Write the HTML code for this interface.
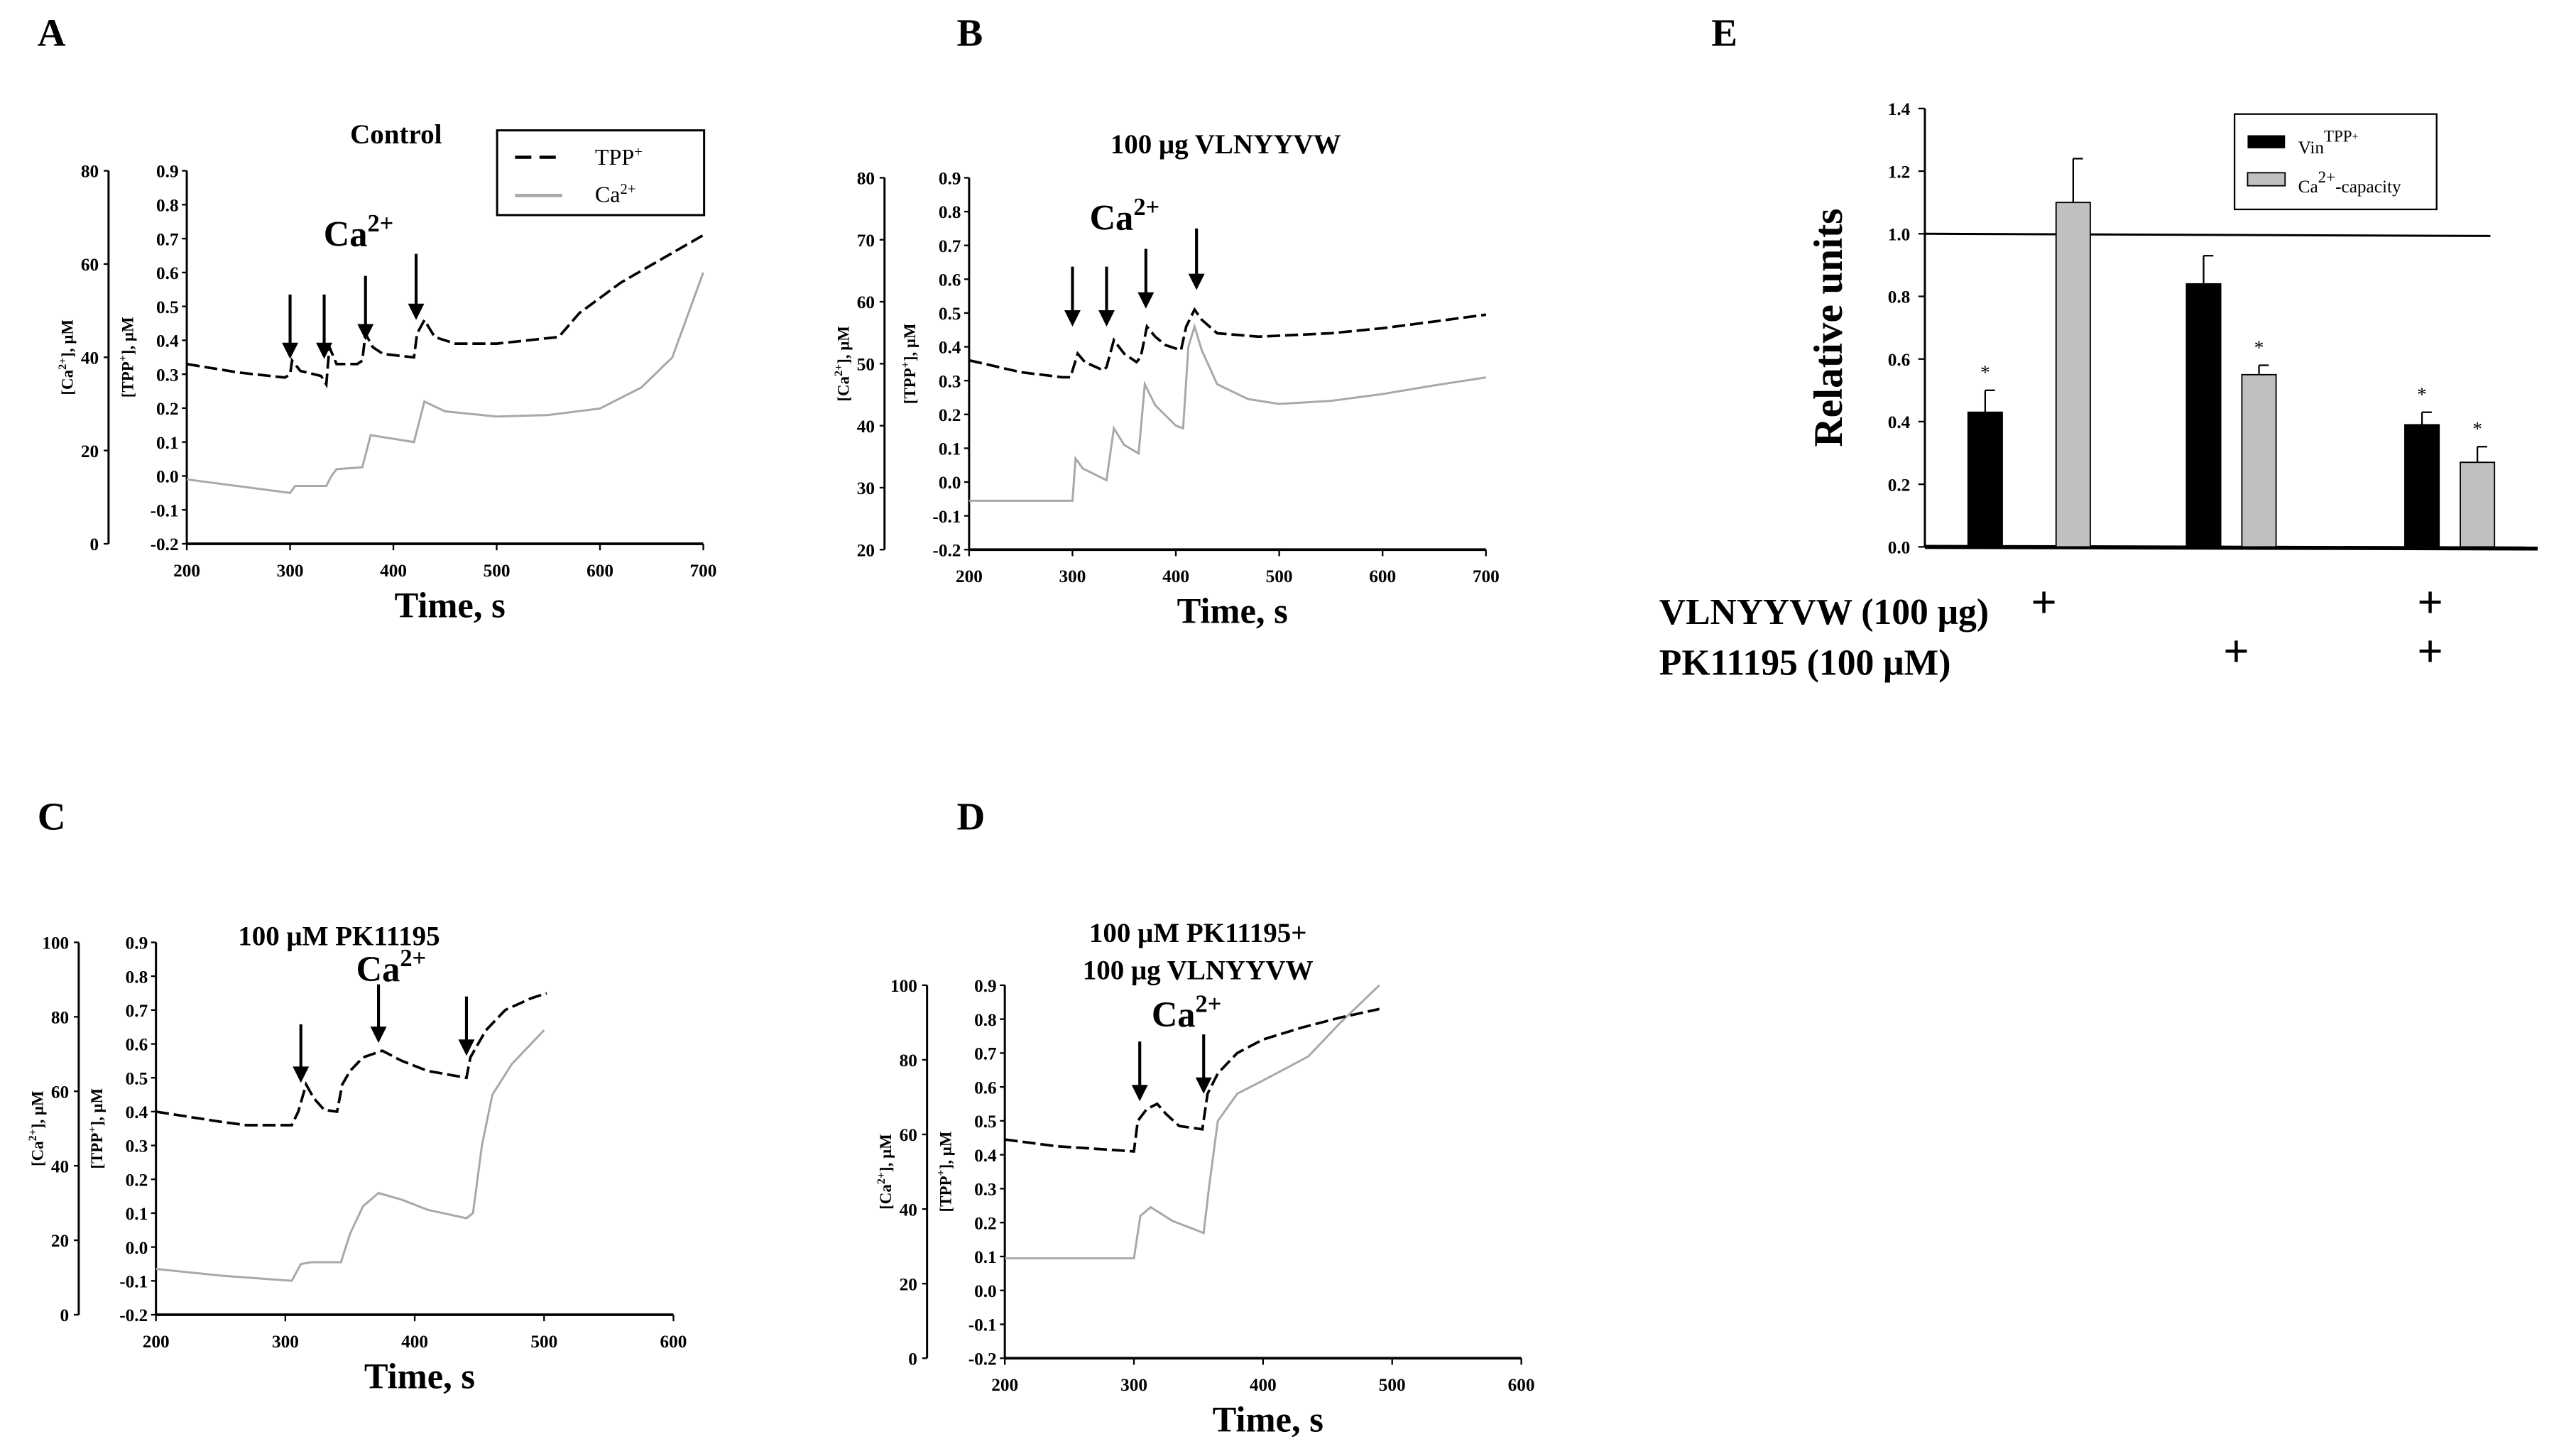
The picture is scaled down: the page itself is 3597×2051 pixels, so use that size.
<!DOCTYPE html>
<html><head><meta charset="utf-8"><style>
html,body{margin:0;padding:0;background:#fff;}
svg{display:block;font-family:"Liberation Serif",serif;font-weight:bold;}
</style></head><body>
<svg id="fig" xmlns="http://www.w3.org/2000/svg" width="3597" height="2051" viewBox="0 0 1567 893.5" preserveAspectRatio="none">
<rect width="1567" height="893.5" fill="#fff"/>
</svg>
<script>
// ---- Panel data (time s, value) ----
const aTime=[200,250,295,300,302,310,330,335,338,345,365,370,373,380,390,420,423,430,440,460,500,560,580,620,660,700];
const aTpp=[0.33,0.305,0.29,0.3,0.34,0.31,0.295,0.27,0.38,0.33,0.33,0.34,0.42,0.38,0.36,0.35,0.42,0.46,0.41,0.39,0.39,0.41,0.48,0.57,0.64,0.71];
const aCaTime=[200,300,305,335,340,345,370,378,420,430,450,500,550,600,640,670,700];
const aCa=[13.8,10.9,12.4,12.4,14.5,16,16.4,23.3,21.8,30.5,28.4,27.3,27.6,29,33.5,40,58.2];
const aArrowTimes=[300,333,373,422];
const aArrowTips=[0.345,0.345,0.40,0.46];
const aArrowTops=[0.535,0.535,0.59,0.655];

const bTime=[200,250,290,298,305,312,330,333,340,350,362,366,372,380,390,405,410,418,425,440,480,550,600,650,700];
const bTpp=[0.36,0.325,0.31,0.31,0.38,0.355,0.33,0.34,0.42,0.38,0.355,0.37,0.46,0.43,0.405,0.39,0.46,0.51,0.48,0.44,0.43,0.44,0.455,0.475,0.495];
const bCaTime=[200,300,303,310,333,340,350,364,370,380,400,407,412,418,425,440,470,500,550,600,650,700];
const bCa=[27.9,27.9,34.7,33.1,31.2,39.6,36.9,35.5,46.7,43.3,40,39.6,52.7,56,52.2,46.7,44.3,43.5,44,45.1,46.5,47.8];
const bArrowTimes=[300,333,371,420];
const bArrowTips=[0.46,0.46,0.513,0.568];
const bArrowTops=[0.637,0.637,0.69,0.75];

const cTime=[200,250,270,305,310,316,322,330,340,344,350,360,375,390,410,440,443,455,470,490,502];
const cTpp=[0.4,0.37,0.36,0.36,0.4,0.48,0.44,0.405,0.4,0.48,0.52,0.56,0.58,0.55,0.52,0.5,0.56,0.64,0.7,0.735,0.75];
const cCaTime=[200,250,305,312,320,343,350,360,372,390,410,440,445,452,460,475,500];
const cCa=[12.3,10.5,9.1,13.6,14.1,14.1,21.8,29.1,32.7,30.9,28.2,25.9,27.3,45.5,59.1,67.3,76.4];
const cArrowTimes=[312,372,440];
const cArrowTips=[0.485,0.603,0.565];
const cArrowTops=[0.658,0.776,0.74];

const dTime=[200,240,280,300,303,310,318,325,335,353,357,365,380,400,430,460,490];
const dTpp=[0.445,0.425,0.415,0.41,0.5,0.535,0.55,0.52,0.485,0.475,0.58,0.64,0.7,0.74,0.775,0.805,0.83];
const dCaTime=[200,300,305,313,330,354,358,365,380,400,435,460,490];
const dCa=[26.8,26.8,38.2,40.5,36.8,33.6,45.5,63.6,70.9,74.5,80.9,90,100];
const dArrowTimes=[304.5,354];
const dArrowTips=[0.558,0.58];
const dArrowTops=[0.734,0.755];

const tppTicks=[-0.2,-0.1,0,0.1,0.2,0.3,0.4,0.5,0.6,0.7,0.8,0.9];

// ---- Panel E data ----
const eGroups=['VLNYYVW','PK11195','VLNYYVW+PK11195'];
const eVin=[0.43,0.84,0.39];
const eVinErr=[0.07,0.09,0.04];
const eCap=[1.10,0.55,0.27];
const eCapErr=[0.14,0.03,0.05];
const eVinStar=[true,false,true];
const eCapStar=[false,true,true];
const eTicks=[0,0.2,0.4,0.6,0.8,1.0,1.2,1.4];

const NS='http://www.w3.org/2000/svg';
const svg=document.getElementById('fig');
function mk(tag,attrs,parent,text){const e=document.createElementNS(NS,tag);for(const k in attrs)e.setAttribute(k,attrs[k]);if(text!==undefined)e.textContent=text;(parent||svg).appendChild(e);return e;}

function panel(p){
  const g=mk('g',{});
  
  
  const X=t=>p.x0+(t-p.tMin)/(p.tMax-p.tMin)*(p.x1-p.x0);
  const Y=v=>p.yB+(v+0.2)/1.1*(p.yT-p.yB);
  const YC=v=>p.yB+(v-p.caMin)/(p.caMax-p.caMin)*(p.yT-p.yB);
  const ca=mk('g',{},g);
  
  
  mk('line',{x1:p.cax,y1:p.yT,x2:p.cax,y2:p.yB,stroke:'#000','stroke-width':1.3},ca);
  for(let v=p.caMin;v<=p.caMax;v+=p.caStep){
    mk('line',{x1:p.cax-3,y1:YC(v),x2:p.cax,y2:YC(v),stroke:'#000','stroke-width':1},ca);
    mk('text',{x:p.cax-6,y:YC(v)+4,'font-size':11,'text-anchor':'end'},ca,String(v));
  }
  const cl=mk('text',{transform:`translate(${p.cax-22},${(p.yT+p.yB)/2}) rotate(-90)`,'font-size':10,'text-anchor':'middle'},ca);
  cl.innerHTML='[Ca<tspan dy="-4" font-size="7">2+</tspan><tspan dy="4">], μM</tspan>';
  const ta=mk('g',{},g);
  
  
  mk('line',{x1:p.x0,y1:p.yT,x2:p.x0,y2:p.yB,stroke:'#000','stroke-width':1.3},ta);
  tppTicks.forEach(v=>{
    mk('line',{x1:p.x0-3,y1:Y(v),x2:p.x0,y2:Y(v),stroke:'#000','stroke-width':1},ta);
    mk('text',{x:p.x0-5,y:Y(v)+4,'font-size':11,'text-anchor':'end'},ta,v.toFixed(1));
  });
  const tl=mk('text',{transform:`translate(${p.x0-33},${(p.yT+p.yB)/2}) rotate(-90)`,'font-size':10,'text-anchor':'middle'},ta);
  tl.innerHTML='[TPP<tspan dy="-4" font-size="7">+</tspan><tspan dy="4">], μM</tspan>';
  const xa=mk('g',{},g);
  
  
  mk('line',{x1:p.x0,y1:p.yB,x2:p.x1,y2:p.yB,stroke:'#000','stroke-width':1.6},xa);
  for(let t=p.tMin;t<=p.tMax;t+=100){
    mk('line',{x1:X(t),y1:p.yB,x2:X(t),y2:p.yB+4,stroke:'#000','stroke-width':1},xa);
    mk('text',{x:X(t),y:p.yB+20,'font-size':11,'text-anchor':'middle'},xa,String(t));
  }
  const xt=mk('text',{x:(p.x0+p.x1)/2+3,y:p.yB+45,'font-size':22,'text-anchor':'middle'},g,'Time, s');
  
  
  const ca2=mk('path',{d:p.caT.map((t,i)=>(i?'L':'M')+X(t).toFixed(1)+','+YC(p.ca[i]).toFixed(1)).join(''),fill:'none',stroke:'#a8a8a8','stroke-width':1.3},g);
  
  
  const tp=mk('path',{d:p.t.map((t,i)=>(i?'L':'M')+X(t).toFixed(1)+','+Y(p.tpp[i]).toFixed(1)).join(''),fill:'none',stroke:'#000','stroke-width':1.6,'stroke-dasharray':'8 3'},g);
  
  
  p.at.forEach((t,i)=>{
    const ar=mk('g',{},g);
    
    
    const x=X(t),yt=Y(p.tips[i]),y0=Y(p.tops[i]);
    mk('line',{x1:x,y1:y0,x2:x,y2:yt-8,stroke:'#000','stroke-width':1.8},ar);
    mk('polygon',{points:`${x-5},${yt-10} ${x+5},${yt-10} ${x},${yt}`,fill:'#000'},ar);
  });
  p.title.forEach((s,i)=>{const tt=mk('text',{x:p.tx,y:p.ty+i*23,'font-size':17,'text-anchor':'middle'},g,s);
    
    });
  const cl2=mk('text',{x:p.cx,y:p.cy,'font-size':22,'text-anchor':'middle'},g);
  cl2.innerHTML='Ca<tspan dy="-9" font-size="15">2+</tspan>';
  
  
  const lt=mk('text',{x:p.lx,y:p.ly,'font-size':24},svg,p.letter);
  
  
}

panel({name:'panel-a',letter:'A',lx:23,ly:28,x0:114.6,x1:431.5,yT:104.8,yB:333.7,tMin:200,tMax:700,cax:66.6,caMin:0,caMax:80,caStep:20,
  t:aTime,tpp:aTpp,caT:aCaTime,ca:aCa,at:aArrowTimes,tips:aArrowTips,tops:aArrowTops,title:['Control'],tx:243,ty:88,cx:220,cy:151});
panel({name:'panel-b',letter:'B',lx:587,ly:28,x0:594.6,x1:911.7,yT:109.1,yB:337.3,tMin:200,tMax:700,cax:542.7,caMin:20,caMax:80,caStep:10,
  t:bTime,tpp:bTpp,caT:bCaTime,ca:bCa,at:bArrowTimes,tips:bArrowTips,tops:bArrowTops,title:['100 μg VLNYYVW'],tx:752,ty:94,cx:690,cy:141});
panel({name:'panel-c',letter:'C',lx:23,ly:509,x0:95.7,x1:413.2,yT:578.3,yB:806.8,tMin:200,tMax:600,cax:48.3,caMin:0,caMax:100,caStep:20,
  t:cTime,tpp:cTpp,caT:cCaTime,ca:cCa,at:cArrowTimes,tips:cArrowTips,tops:cArrowTops,title:['100 μM PK11195'],tx:208,ty:580,cx:240,cy:602});
panel({name:'panel-d',letter:'D',lx:587,ly:509,x0:616.5,x1:933.4,yT:604.6,yB:833.5,tMin:200,tMax:600,cax:568.8,caMin:0,caMax:100,caStep:20,
  t:dTime,tpp:dTpp,caT:dCaTime,ca:dCa,at:dArrowTimes,tips:dArrowTips,tops:dArrowTops,title:['100 μM PK11195+','100 μg VLNYYVW'],tx:735,ty:578,cx:728,cy:630});

(function(){
  const g=mk('g',{});
  
  
  mk('rect',{x:305,y:80,width:127,height:52,fill:'#fff',stroke:'#000','stroke-width':1.3},g);
  mk('line',{x1:316,y1:96.5,x2:345,y2:96.5,stroke:'#000','stroke-width':2,'stroke-dasharray':'10 5'},g);
  const t1=mk('text',{x:365,y:101,'font-size':14,'font-weight':'normal'},g);t1.innerHTML='TPP<tspan dy="-5" font-size="9">+</tspan>';
  mk('line',{x1:316,y1:120,x2:345,y2:120,stroke:'#a8a8a8','stroke-width':2},g);
  const t2=mk('text',{x:365,y:124,'font-size':14,'font-weight':'normal'},g);t2.innerHTML='Ca<tspan dy="-5" font-size="9">2+</tspan>';
})();

(function(){
  const g=mk('g',{});
  
  
  const ax=1181, xr=1557, yT=66.6, yB=335.6;
  const Y=v=>yB+v/1.4*(yT-yB);
  const lt=mk('text',{x:1050,y:28,'font-size':24},g,'E');
  
  
  mk('line',{x1:ax,y1:yT,x2:ax,y2:yB,stroke:'#000','stroke-width':1.3},g);
  eTicks.forEach(v=>{
    mk('line',{x1:ax-4,y1:Y(v),x2:ax,y2:Y(v),stroke:'#000','stroke-width':1},g);
    mk('text',{x:ax-9,y:Y(v)+4,'font-size':11,'text-anchor':'end'},g,v.toFixed(1));
  });
  mk('line',{x1:ax,y1:yB,x2:xr,y2:yB+1,stroke:'#000','stroke-width':2.5},g);
  mk('line',{x1:ax,y1:Y(1.0),x2:1528,y2:Y(0.993),stroke:'#000','stroke-width':1.3},g);
  const yl=mk('text',{transform:`translate(1130,${(yT+yB)/2}) rotate(-90)`,'font-size':25,'text-anchor':'middle'},g,'Relative units');
  
  
  const gx0=1218, gStep=134, bw=21;
  eGroups.forEach((n,i)=>{
    const cx=gx0+gStep*i;
    [[eVin,eVinErr,eVinStar,'#000','bar-vin'],[eCap,eCapErr,eCapStar,'#c0c0c0','bar-capacity']].forEach((s,k)=>{
      const x=k===0?cx-bw/2:cx-bw/2+(i===0?54:34);
      const v=s[0][i],e=s[1][i];
      const r=mk('rect',{x:x,y:Y(v),width:bw,height:yB-Y(v),fill:s[3],stroke:'#000','stroke-width':0.8},g);
      
      
      mk('line',{x1:x+bw/2,y1:Y(v),x2:x+bw/2,y2:Y(v+e),stroke:'#000','stroke-width':1},g);
      mk('line',{x1:x+bw/2,y1:Y(v+e),x2:x+bw/2+6,y2:Y(v+e),stroke:'#000','stroke-width':1},g);
      if(s[2][i])mk('text',{x:x+bw/2,y:Y(v+e)-7,'font-size':12,'text-anchor':'middle','font-weight':'normal'},g,'*');
    });
  });
  const lg=mk('g',{},g);
  
  
  mk('rect',{x:1371,y:70,width:124,height:58.5,fill:'#fff',stroke:'#000','stroke-width':1},lg);
  mk('rect',{x:1379,y:83,width:23,height:8,fill:'#000'},lg);
  const l1=mk('text',{x:1410,y:94,'font-size':11,'font-weight':'normal'},lg);l1.innerHTML='Vin<tspan dy="-7" font-size="10">TPP</tspan><tspan dy="-1" font-size="7">+</tspan>';
  mk('rect',{x:1379,y:106,width:23,height:8,fill:'#c0c0c0',stroke:'#000','stroke-width':0.8},lg);
  const l2=mk('text',{x:1410,y:118,'font-size':11,'font-weight':'normal'},lg);l2.innerHTML='Ca<tspan dy="-6" font-size="10">2+</tspan><tspan dy="6">-capacity</tspan>';
  const r1=mk('text',{x:1018,y:383,'font-size':22.5},g,'VLNYYVW (100 μg)');
  
  
  const r2=mk('text',{x:1018,y:414,'font-size':22.5},g,'PK11195 (100 μM)');
  
  
  [[1254,379],[1491,379],[1372,409],[1491,409]].forEach(p=>{
    const t=mk('text',{x:p[0],y:p[1],'font-size':28,'text-anchor':'middle','font-weight':'bold'},g,'+');
    
    
  });
})();
</script>
</body></html>
